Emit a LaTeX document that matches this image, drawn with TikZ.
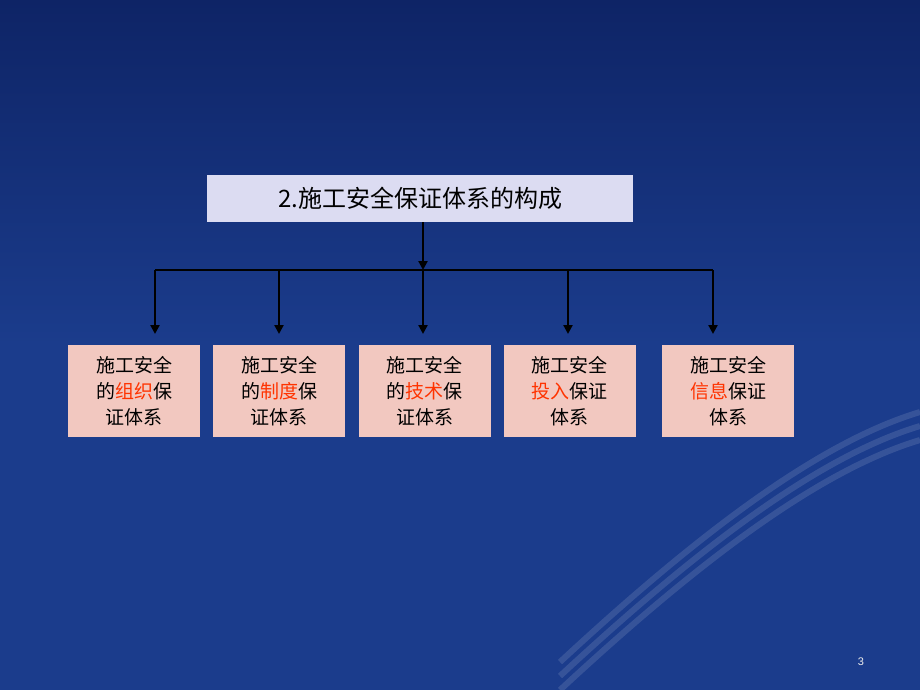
\documentclass[tikz,border=0pt]{standalone}
\usepackage{fontspec}
\setmainfont{Liberation Sans}
\newfontfamily\cjk{Noto Sans CJK SC}
\usetikzlibrary{arrows.meta}
\definecolor{bgblue}{HTML}{1B3C8C}
\definecolor{bgdark}{HTML}{0E2466}
\definecolor{titlefill}{HTML}{DCDCF2}
\definecolor{boxfill}{HTML}{F2C8C0}
\definecolor{hl}{HTML}{FF3300}
\begin{document}
\begin{tikzpicture}[x=1pt,y=-1pt,
  conn/.style={line width=2.6pt,black},
  arr/.style={conn,-{Triangle[length=9pt,width=9pt]}},
  sub/.style={draw=none,fill=boxfill,minimum width=132pt,minimum height=92pt,align=center,font=\cjk\fontsize{19}{26}\selectfont,inner sep=0pt},
  hi/.style={text=hl}]
\shade[top color=bgdark,bottom color=bgblue,middle color=bgblue] (0,0) rectangle (920,690);
\useasboundingbox (0,0) rectangle (920,690);
\foreach \d in {0,14,28}{
  \draw[white,opacity=0.12,line width=6pt] (560,690-\d) .. controls (700,560-\d) and (820,470-\d) .. (920,440-\d);
}
\node[fill=titlefill,minimum width=426pt,minimum height=47pt,inner sep=0pt,font=\cjk\fontsize{24}{28}\selectfont] (title) at (420,198.5) {2.施工安全保证体系的构成};
\node[sub] (b1) at (134,391) {施工安全\\的{\color{hl}组织}保\\证体系};
\node[sub] (b2) at (279,391) {施工安全\\的{\color{hl}制度}保\\证体系};
\node[sub] (b3) at (424.5,391) {施工安全\\的{\color{hl}技术}保\\证体系};
\node[sub] (b4) at (569.5,391) {施工安全\\{\color{hl}投入}保证\\体系};
\node[sub] (b5) at (728,391) {施工安全\\{\color{hl}信息}保证\\体系};
\coordinate (j) at (423,270);
\coordinate (l) at (155,270);
\coordinate (r) at (713,270);
\draw[arr] (423,222) -- (423,270);
\draw[conn] (l) -- (r);
\foreach \x in {155,279,423,568,713}{
  \draw[arr] (\x,270) -- (\x,334);
}
\node[text=white!85!gray,font=\fontsize{11}{13}\selectfont] (pg) at (861,662) {3};
\end{tikzpicture}
\end{document}
